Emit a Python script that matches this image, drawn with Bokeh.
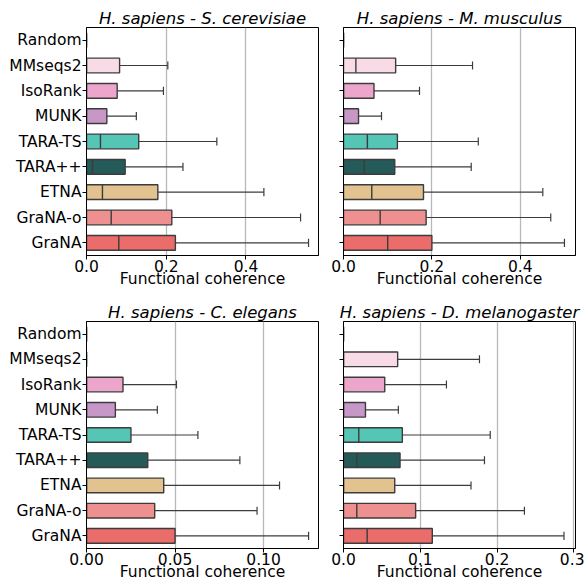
from bokeh.plotting import figure
from bokeh.layouts import gridplot
from bokeh.models import Range1d, FixedTicker, ColumnDataSource
from bokeh.embed import file_html
from bokeh.resources import INLINE

# Methods, listed top to bottom
methods = ["Random", "MMseqs2", "IsoRank", "MUNK", "TARA-TS", "TARA++", "ETNA", "GraNA-o", "GraNA"]
colors = ["#ffffff", "#f9dbe7", "#eca6cb", "#c798c7", "#55c5b5", "#245a58", "#e2c28f", "#ef9090", "#ea6d6c"]

# H. sapiens - S. cerevisiae (lower quartile is 0 everywhere)
sc_median = [0, 0, 0, 0, 0.035, 0.015, 0.040, 0.062, 0.081]
sc_q3 = [0, 0.083, 0.077, 0.051, 0.131, 0.097, 0.179, 0.214, 0.223]
sc_whisker = [0, 0.204, 0.193, 0.125, 0.327, 0.242, 0.445, 0.537, 0.557]

# H. sapiens - M. musculus
mm_median = [0, 0.028, 0, 0, 0.054, 0.047, 0.064, 0.083, 0.100]
mm_q3 = [0, 0.118, 0.069, 0.034, 0.122, 0.116, 0.181, 0.187, 0.200]
mm_whisker = [0, 0.292, 0.172, 0.086, 0.305, 0.289, 0.451, 0.469, 0.500]

# H. sapiens - C. elegans
ce_median = [0, 0, 0, 0, 0, 0, 0, 0, 0]
ce_q3 = [0, 0, 0.0206, 0.0163, 0.0251, 0.0346, 0.0436, 0.0385, 0.0500]
ce_whisker = [0, 0, 0.0508, 0.0400, 0.0629, 0.0866, 0.1090, 0.0963, 0.1254]

# H. sapiens - D. melanogaster
dm_median = [0, 0, 0, 0, 0.0199, 0.0173, 0, 0.0173, 0.0308]
dm_q3 = [0, 0.0705, 0.0537, 0.0286, 0.0766, 0.0736, 0.0667, 0.0939, 0.1156]
dm_whisker = [0, 0.177, 0.134, 0.0714, 0.191, 0.1835, 0.166, 0.2355, 0.287]

FONT = "DejaVu Sans"
LABEL_SIZE = "15.5px"
TITLE_SIZE = "16.5px"
BOX_HALF = 0.29
CAP_HALF = 0.16
EDGE = "#3c3c3c"


def panel(title, median, q3, whisker, xmax, ticks, fmt, show_labels,
          width, height, left, right, top, bottom):
    p = figure(width=width, height=height, output_backend="svg", toolbar_location=None,
               x_range=Range1d(0, xmax), y_range=Range1d(8.5, -0.5),
               min_border_left=left, min_border_right=right,
               min_border_top=top, min_border_bottom=bottom)
    p.title.text = title
    p.title.align = "center"
    p.title.text_font = FONT
    p.title.text_font_size = TITLE_SIZE
    p.title.text_font_style = "italic"
    p.title.text_color = "black"
    p.title.standoff = 0
    p.title.offset = 0

    idx = list(range(len(methods)))
    src = ColumnDataSource(dict(
        y=idx, name=methods, color=colors, med=median, q3=q3, wh=whisker,
        zero=[0] * len(methods),
        top=[i - BOX_HALF for i in idx], bot=[i + BOX_HALF for i in idx],
        ctop=[i - CAP_HALF for i in idx], cbot=[i + CAP_HALF for i in idx],
    ))
    # whisker line and cap
    p.segment(x0="q3", y0="y", x1="wh", y1="y", source=src, line_color=EDGE, line_width=1.2)
    p.segment(x0="wh", y0="ctop", x1="wh", y1="cbot", source=src, line_color=EDGE, line_width=1.2)
    # box from the lower quartile (0) to the upper quartile
    p.quad(left="zero", right="q3", top="top", bottom="bot", source=src,
           fill_color="color", line_color=EDGE, line_width=1.4)
    # median
    p.segment(x0="med", y0="top", x1="med", y1="bot", source=src, line_color=EDGE, line_width=1.4)

    p.xaxis.ticker = FixedTicker(ticks=ticks)
    p.xaxis.major_label_overrides = {t: fmt.format(t) for t in ticks}
    p.yaxis.ticker = FixedTicker(ticks=idx)
    if show_labels:
        p.yaxis.major_label_overrides = {i: m for i, m in enumerate(methods)}
    else:
        p.yaxis.major_label_overrides = {i: "" for i in idx}
    p.xaxis.axis_label = "Functional coherence"

    for ax in (p.xaxis, p.yaxis):
        ax.axis_line_color = "black"
        ax.axis_line_width = 1
        ax.major_tick_line_color = "black"
        ax.major_tick_out = 4
        ax.major_tick_in = 0
        ax.minor_tick_line_color = None
        ax.major_label_text_font = FONT
        ax.major_label_text_font_size = LABEL_SIZE
        ax.major_label_text_color = "black"
        ax.axis_label_text_font = FONT
        ax.axis_label_text_font_size = LABEL_SIZE
        ax.axis_label_text_font_style = "normal"
        ax.axis_label_text_color = "black"
    p.xaxis.major_label_standoff = 0
    p.xaxis.axis_label_standoff = -5
    p.yaxis.major_label_standoff = 1

    p.xgrid.grid_line_color = "#b8b8b8"
    p.xgrid.grid_line_width = 1.3
    p.ygrid.grid_line_color = None
    p.outline_line_color = "black"
    p.outline_line_width = 1
    p.outline_line_alpha = 1
    p.background_fill_color = "white"
    p.border_fill_color = "white"
    return p


p1 = panel("H. sapiens - S. cerevisiae", sc_median, sc_q3, sc_whisker, 0.582,
           [0.0, 0.2, 0.4], "{:.1f}", True, 330, 290, 86, 11, 27, 35)
p2 = panel("H. sapiens - M. musculus", mm_median, mm_q3, mm_whisker, 0.525,
           [0.0, 0.2, 0.4], "{:.1f}", False, 254, 290, 13, 9, 27, 35)
p3 = panel("H. sapiens - C. elegans", ce_median, ce_q3, ce_whisker, 0.131,
           [0.0, 0.05, 0.10], "{:.2f}", True, 330, 293, 86, 12, 31, 35)
p4 = panel("H. sapiens - D. melanogaster", dm_median, dm_q3, dm_whisker, 0.302,
           [0.0, 0.1, 0.2, 0.3], "{:.1f}", False, 254, 293, 13, 9, 31, 35)

grid = gridplot([[p1, p2], [p3, p4]], toolbar_location=None)

open("out.html", "w").write(file_html(grid, INLINE))
